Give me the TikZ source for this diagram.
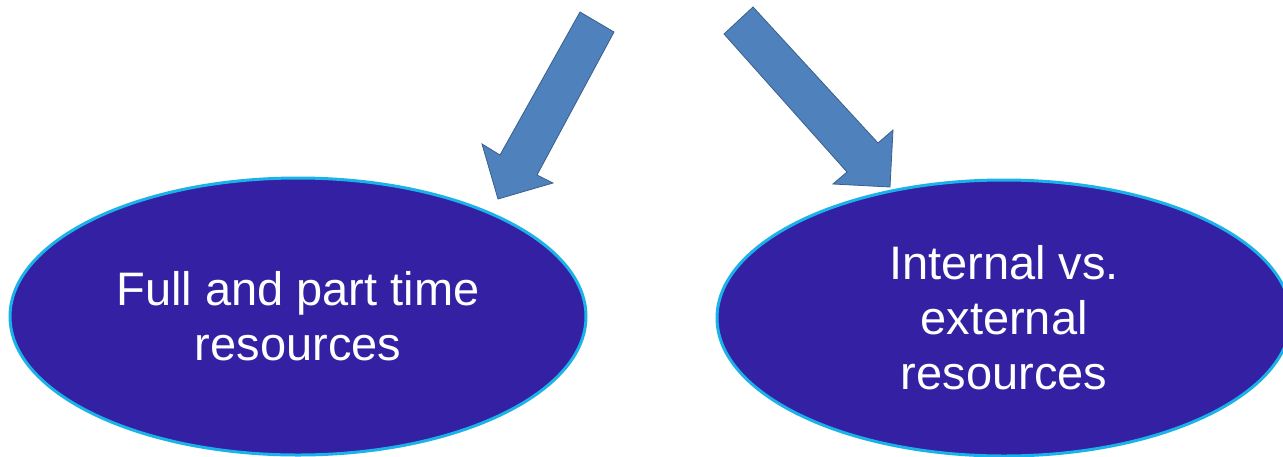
\documentclass[tikz,border=0pt]{standalone}
\usepackage{fontspec}
\setmainfont{Liberation Sans}
\usetikzlibrary{shapes.geometric}

\definecolor{ovalfill}{HTML}{3420A3}
\definecolor{ovalline}{HTML}{1AB2E8}
\definecolor{arrfill}{HTML}{4F81BD}
\definecolor{arrline}{HTML}{3A5F8C}

\tikzset{
  oval/.style={ellipse, draw=ovalline, line width=3pt, fill=ovalfill,
    text=white, align=center, inner sep=0pt,
    font=\fontsize{47}{55}\selectfont},
  blockarrow/.style={draw=arrline, fill=arrfill, line width=0.8pt, line join=miter}
}

\begin{document}
\begin{tikzpicture}[x=1pt,y=-1pt]
\useasboundingbox (0,0) rectangle (1283,456);

\node(Full)[oval, minimum width=576pt, minimum height=277pt] at (298,316.5)
  {Full and part time\\resources};
\node(Ext)[oval, minimum width=574pt, minimum height=276pt] at (1004,318)
  {Internal vs.\\external\\resources};

% block arrows
\filldraw[blockarrow] (580,12) -- (614,32) -- (537,175) -- (553,183)
  -- (498,199) -- (482,144) -- (500,155) -- cycle;
\filldraw[blockarrow] (753,7) -- (724,34) -- (847,172) -- (833,184)
  -- (890,187) -- (893,130) -- (878,143) -- cycle;
\end{tikzpicture}
\end{document}
